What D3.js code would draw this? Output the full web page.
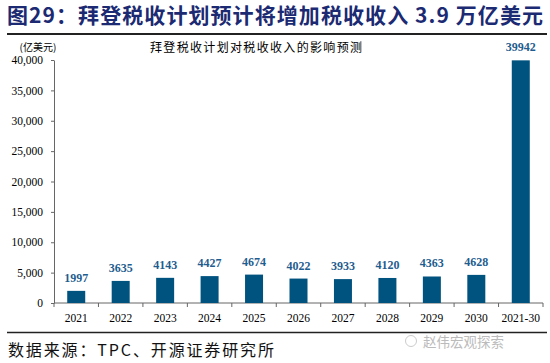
<!DOCTYPE html>
<html>
<head>
<meta charset="utf-8">
<script src="https://d3js.org/d3.v7.min.js"></script>
<style>
  body { margin: 0; background: #fff; }
  .axis text { font-family: "Liberation Serif", serif; font-size: 11.5px; fill: #000; }
  .axis path, .axis line { stroke: #666; }
</style>
</head>
<body>
<svg width="550" height="363"></svg>
<script>
var categories = ["2021", "2022", "2023", "2024", "2025", "2026", "2027", "2028", "2029", "2030", "2021-30"];
var revenue = [1997, 3635, 4143, 4427, 4674, 4022, 3933, 4120, 4363, 4628, 39942];
var yTicks = [0, 5000, 10000, 15000, 20000, 25000, 30000, 35000, 40000];

var svg = d3.select("svg");
var mLeft = 54, mRight = 543, mTop = 60, mBottom = 303;

// title
svg.append("text")
  .attr("x", 7).attr("y", 23)
  .attr("font-family", "Noto Sans CJK SC")
  .attr("font-weight", "bold")
  .attr("font-size", 21)
  .attr("fill", "#1b2a72")
  .attr("textLength", 536)
  .attr("lengthAdjust", "spacing")
  .text("图29：拜登税收计划预计将增加税收收入 3.9 万亿美元");

svg.append("line").attr("x1", 7).attr("x2", 547).attr("y1", 34).attr("y2", 34)
  .attr("stroke", "#222").attr("stroke-width", 2);

svg.append("text")
  .attr("x", 38).attr("y", 51)
  .attr("text-anchor", "middle")
  .attr("font-family", "Noto Sans CJK SC")
  .attr("font-size", 10)
  .text("(亿美元)");

svg.append("text")
  .attr("x", 150).attr("y", 51.5)
  .attr("font-family", "Noto Sans CJK SC")
  .attr("font-size", 12)
  .attr("textLength", 212)
  .attr("lengthAdjust", "spacing")
  .text("拜登税收计划对税收收入的影响预测");

var y = d3.scaleLinear().domain([0, 40000]).range([mBottom, mTop]);

var bw = 18;
var step = (mRight - mLeft) / categories.length;
var xc = function(d) { return mLeft + step * (categories.indexOf(d) + 0.5); };

// y axis
svg.append("g")
  .attr("class", "axis")
  .attr("transform", "translate(" + mLeft + ",0)")
  .call(d3.axisLeft(y).tickValues(yTicks).tickSize(3).tickSizeOuter(0).tickFormat(d3.format(",")))
  .call(function(g) { g.selectAll("text").attr("x", -11); });

// x axis with ticks between categories
var xa = svg.append("g")
  .attr("class", "axis")
  .attr("transform", "translate(0," + mBottom + ")");
xa.append("line").attr("x1", mLeft).attr("x2", mRight).attr("stroke", "#666");
xa.selectAll(".tk")
  .data(d3.range(categories.length + 1))
  .enter().append("line")
  .attr("x1", function(i) { return mLeft + step * i; })
  .attr("x2", function(i) { return mLeft + step * i; })
  .attr("y1", 0).attr("y2", 4)
  .attr("stroke", "#666");
xa.selectAll("text")
  .data(categories)
  .enter().append("text")
  .attr("x", xc).attr("y", 19)
  .attr("text-anchor", "middle")
  .text(function(d) { return d; });

// bars
svg.selectAll(".bar")
  .data(categories)
  .enter().append("rect")
  .attr("x", function(d) { return xc(d) - bw / 2; })
  .attr("width", bw)
  .attr("y", function(d, i) { return y(revenue[i]); })
  .attr("height", function(d, i) { return mBottom - y(revenue[i]); })
  .attr("fill", "#00527f");

svg.selectAll(".lbl")
  .data(categories)
  .enter().append("text")
  .attr("x", xc)
  .attr("y", function(d, i) { return y(revenue[i]) - 9; })
  .attr("text-anchor", "middle")
  .attr("font-family", "Liberation Serif")
  .attr("font-weight", "bold")
  .attr("font-size", 12)
  .attr("fill", "#1f5d8f")
  .text(function(d, i) { return revenue[i]; });

// footer
svg.append("line").attr("x1", 7).attr("x2", 547).attr("y1", 332.5).attr("y2", 332.5)
  .attr("stroke", "#222").attr("stroke-width", 1.5);

svg.append("text")
  .attr("x", 8).attr("y", 356)
  .attr("font-family", "Noto Sans CJK SC")
  .attr("font-size", 16)
  .attr("fill", "#111")
  .attr("textLength", 266)
  .attr("lengthAdjust", "spacing")
  .text("数据来源：TPC、开源证券研究所");

svg.append("text")
  .attr("x", 423).attr("y", 347)
  .attr("font-family", "Noto Sans CJK SC")
  .attr("font-size", 13.5)
  .attr("fill", "#bbb")
  .text("赵伟宏观探索");
svg.append("circle").attr("cx", 411).attr("cy", 341).attr("r", 5.5)
  .attr("fill", "none").attr("stroke", "#ccc");
</script>
</body>
</html>
